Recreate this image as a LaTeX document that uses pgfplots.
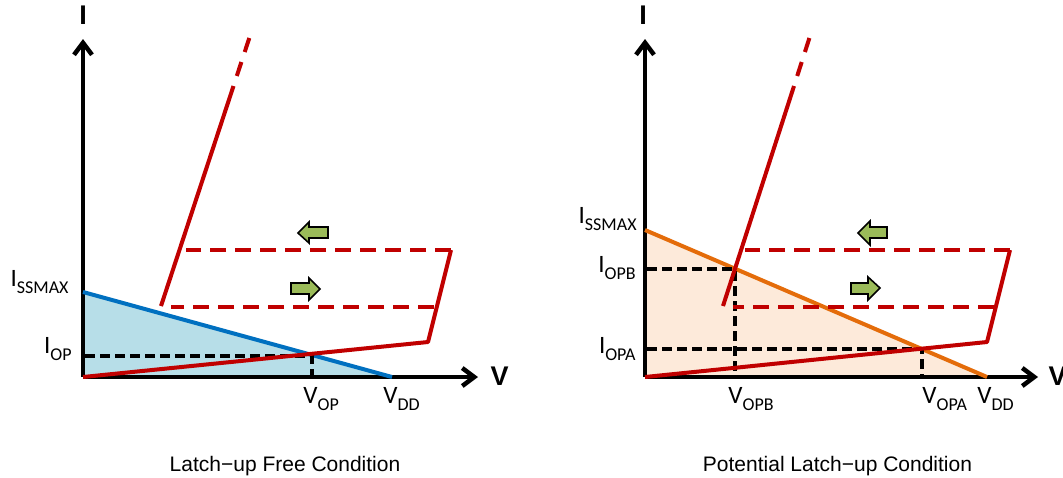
\documentclass[border=0pt]{standalone}
\usepackage{fontspec}
\setmainfont{Carlito}
\newfontfamily\capfont{Liberation Sans}
\usepackage{pgfplots}
\pgfplotsset{compat=1.18}
\usetikzlibrary{arrows.meta}

\definecolor{lured}{HTML}{C00000}
\definecolor{lublue}{HTML}{0070C0}
\definecolor{luorange}{HTML}{E46C0A}
\definecolor{lubluefill}{HTML}{B7DEE8}
\definecolor{luorangefill}{HTML}{FDEADA}
\definecolor{lugreen}{HTML}{9BBB59}

\newcommand{\lab}[2]{{\fontsize{12.5}{14}\selectfont #1\raisebox{-3.5pt}{\fontsize{9}{10}\selectfont #2}}}

\tikzset{
  redline/.style={lured, line width=2pt, line join=round},
  reddash/.style={lured, line width=2pt, dash pattern=on 8pt off 4.5pt},
  blkdash/.style={black, line width=1.6pt, dash pattern=on 5pt off 2.5pt},
  axline/.style={black, line width=2.25pt, -{Straight Barb[length=6pt, width=9pt]}},
  greenarrow/.style={fill=lugreen, draw=black, line width=0.8pt, line join=miter},
  axlab/.style={anchor=base, inner sep=0, font=\capfont\fontsize{13.5}{15}\selectfont\bfseries}
}

\begin{document}
\begin{tikzpicture}
\begin{axis}[name=ax, scale only axis, width=531.5pt, height=238.5pt,
  xmin=0, xmax=1063, ymin=0, ymax=477, y dir=reverse,
  hide axis, clip=false,
  every axis plot/.append style={mark=none}]

\addplot[draw=none] coordinates {(0,0) (1063,477)};

% ---------- left panel: latch-up free ----------
\addplot[fill=lubluefill, draw=none] coordinates {(83,377) (83,292) (392,377)} -- cycle;
\addplot[axline] coordinates {(83,377) (478,377)};
\addplot[axline] coordinates {(83,377) (83,39)};
\addplot[lublue, line width=2pt] coordinates {(83,292) (392,377)};
\addplot[blkdash] coordinates {(85,356) (312,356) (312,377)};
\addplot[redline] coordinates {(83,377) (428,342) (451,250)};
\addplot[reddash] coordinates {(451,250) (186,250)};
\addplot[reddash] coordinates {(434,307) (171,307)};
\addplot[redline] coordinates {(161,306) (233.5,86)};
\addplot[redline] coordinates {(236.8,76) (241.4,62)};
\addplot[redline] coordinates {(244.7,52) (249.3,38)};
\addplot[greenarrow] coordinates {(298,233) (309,222) (309,227) (328,227) (328,238) (309,238) (309,243)} -- cycle;
\addplot[greenarrow] coordinates {(320,289) (309,278) (309,283) (291,283) (291,294) (309,294) (309,300)} -- cycle;

\node[axlab] at (axis cs:83,24) {I};
\node[axlab] at (axis cs:499.5,385) {V};
\node[anchor=base east, inner sep=0] at (axis cs:69,286) {\lab{I}{SSMAX}};
\node[anchor=base east, inner sep=0] at (axis cs:72,353) {\lab{I}{OP}};
\node[anchor=base west, inner sep=0] at (axis cs:303,403) {\lab{V}{OP}};
\node[anchor=base west, inner sep=0] at (axis cs:383,403) {\lab{V}{DD}};
\node[anchor=base, inner sep=0, font=\capfont\fontsize{10.5}{12}\selectfont] at (axis cs:285,471) {Latch−up Free Condition};

% ---------- right panel: potential latch-up ----------
\addplot[fill=luorangefill, draw=none] coordinates {(645,377) (645,230) (987,377)} -- cycle;
\addplot[axline] coordinates {(645,377) (1038,377)};
\addplot[axline] coordinates {(645,377) (645,39)};
\addplot[luorange, line width=2pt] coordinates {(645,230) (987,377)};
\addplot[blkdash] coordinates {(647,269) (735,269) (735,377)};
\addplot[blkdash] coordinates {(647,349) (922,349) (922,377)};
\addplot[redline] coordinates {(645,377) (987,342) (1010,250)};
\addplot[reddash] coordinates {(1010,250) (745,250)};
\addplot[reddash] coordinates {(994,307) (733,307)};
\addplot[redline] coordinates {(723,306) (794,86)};
\addplot[redline] coordinates {(797.2,76) (801.7,62)};
\addplot[redline] coordinates {(804.9,52) (809.4,38)};
\addplot[greenarrow] coordinates {(858,233) (870,221) (870,227) (887,227) (887,238) (870,238) (870,245)} -- cycle;
\addplot[greenarrow] coordinates {(880,288) (868,277) (868,283) (851,283) (851,294) (868,294) (868,300)} -- cycle;

\node[axlab] at (axis cs:643,24) {I};
\node[axlab] at (axis cs:1057.5,385) {V};
\node[anchor=base east, inner sep=0] at (axis cs:637,223) {\lab{I}{SSMAX}};
\node[anchor=base east, inner sep=0] at (axis cs:636,272) {\lab{I}{OPB}};
\node[anchor=base east, inner sep=0] at (axis cs:636,353) {\lab{I}{OPA}};
\node[anchor=base west, inner sep=0] at (axis cs:728,403) {\lab{V}{OPB}};
\node[anchor=base west, inner sep=0] at (axis cs:922,403) {\lab{V}{OPA}};
\node[anchor=base west, inner sep=0] at (axis cs:977,403) {\lab{V}{DD}};
\node[anchor=base, inner sep=0, font=\capfont\fontsize{10.5}{12}\selectfont] at (axis cs:837.5,471) {Potential Latch−up Condition};
\end{axis}
\pgfresetboundingbox
\path (ax.south west) rectangle (ax.north east);
\end{tikzpicture}
\end{document}
